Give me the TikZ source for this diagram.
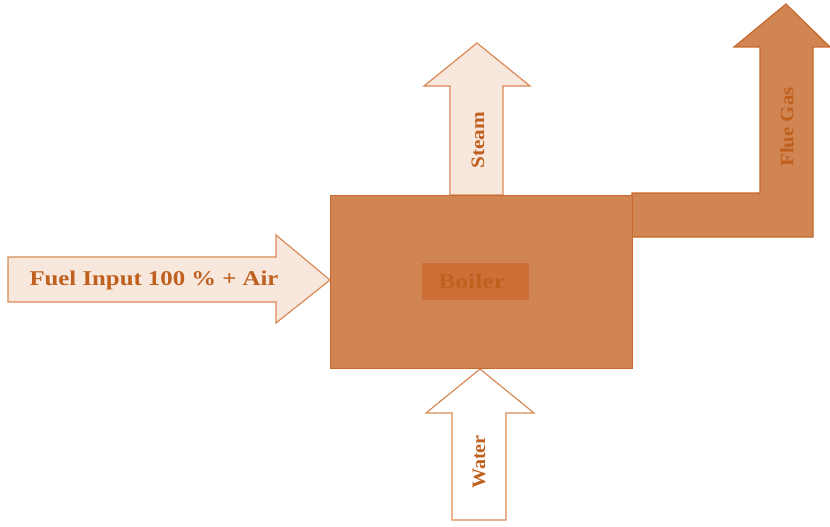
\documentclass[tikz,border=0pt]{standalone}
\usepackage{fontspec}
\setmainfont{Liberation Serif}
\begin{document}
\begin{tikzpicture}[x=1pt,y=-1pt,
  lightarrow/.style={draw=arrowedge, fill=arrowfill, line width=1.2pt, line join=miter},
  whitearrow/.style={draw=arrowedge, fill=white, line width=1.2pt, line join=miter},
  darkshape/.style={draw=boileredge, fill=boilerfill, line width=1.2pt, line join=miter},
  lbl/.style={text=textcol, inner sep=0}
]
\definecolor{arrowedge}{HTML}{D98A55}
\definecolor{arrowfill}{HTML}{F8E7DD}
\definecolor{boilerfill}{HTML}{D08552}
\definecolor{boileredge}{HTML}{C8692E}
\definecolor{labelfill}{HTML}{CC7038}
\definecolor{textcol}{HTML}{C0601E}
\useasboundingbox (0,0) rectangle (830,527);
% fuel arrow
\draw[lightarrow] (8,257) -- (276,257) -- (276,235) -- (330,280) -- (276,323) -- (276,302) -- (8,302) -- cycle;
% steam arrow
\draw[lightarrow] (450,195) -- (450,86) -- (424,86) -- (477,43) -- (530,86) -- (503,86) -- (503,195) -- cycle;
% water arrow
\draw[whitearrow] (452,520) -- (452,413) -- (426,413) -- (480,369) -- (534,413) -- (506,413) -- (506,520) -- cycle;
% flue gas
\draw[darkshape] (632,193) -- (760,193) -- (760,47) -- (734,47) -- (786,4) -- (830,47) -- (813,47) -- (813,237) -- (632,237) -- cycle;
% boiler
\node[darkshape, draw, minimum width=302, minimum height=173, inner sep=0, anchor=north west] (boiler) at (330,195) {};
\node[fill=labelfill, minimum width=107, minimum height=37, inner sep=0, anchor=north west] (boilerbg) at (422,263) {};
\node[lbl, font=\bfseries\fontsize{21}{21}\selectfont] (boilerlbl) at ([xshift=-4]boilerbg.center) {\scalebox{1.22}[1]{Boiler}};
% labels
\node[lbl, font=\bfseries\fontsize{21}{21}\selectfont] (fuel) at (154,280) {\scalebox{1.18}[1]{Fuel Input 100 \% + Air}};
\node[lbl, font=\bfseries\fontsize{19}{19}\selectfont, rotate=90] (steam) at (478,140) {\scalebox{1.12}[1]{Steam}};
\node[lbl, font=\bfseries\fontsize{19}{19}\selectfont, rotate=90] (water) at (479,462) {\scalebox{1.06}[1]{Water}};
\node[lbl, font=\bfseries\fontsize{19}{19}\selectfont, rotate=90] (flue) at (787,127) {\scalebox{1.1}[1]{Flue Gas}};
\end{tikzpicture}
\end{document}
